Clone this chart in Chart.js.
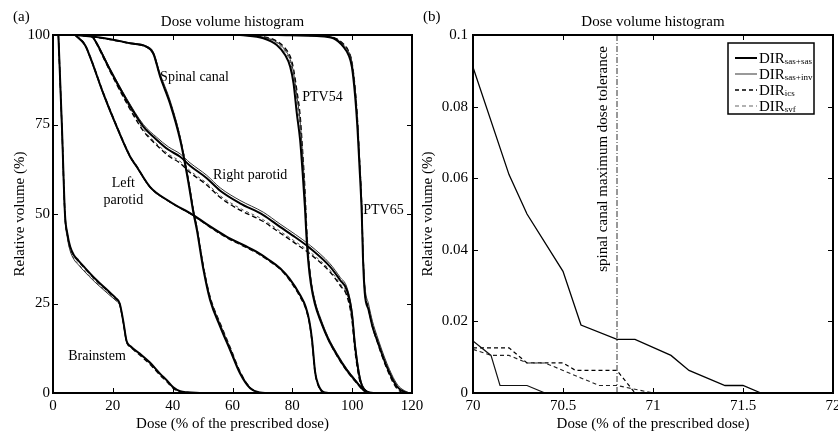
<!DOCTYPE html>
<html>
<head>
<meta charset="utf-8">
<script src="https://cdn.jsdelivr.net/npm/chart.js@4.4.1/dist/chart.umd.min.js"></script>
<style>
  html, body { margin: 0; padding: 0; background: #fff; }
  #wrap { position: relative; width: 838px; height: 432px; overflow: hidden; }
  canvas { position: absolute; top: 0; }
  #dvhFull { left: 0; }
  #dvhZoom { left: 419px; }
</style>
</head>
<body>
<div id="wrap">
  <canvas id="dvhFull" width="432" height="432"></canvas>
  <canvas id="dvhZoom" width="419" height="432"></canvas>
</div>
<script>
// registration methods, in drawing priority order
const methods = ['sas+sas', 'sas+inv', 'ics', 'svf'];

// tick labels
const fullDoseTicks = [0, 20, 40, 60, 80, 100, 120];
const fullVolumeTicks = [0, 25, 50, 75, 100];
const zoomDoseTicks = [70, 70.5, 71, 71.5, 72];
const zoomVolumeTicks = [0, 0.02, 0.04, 0.06, 0.08, 0.1];

// panel (a): dose (%) and relative volume (%) per structure
const brainstemDose = [1.8, 3.0, 4.0, 4.8, 5.7, 7.0, 8.5, 10.1, 14, 19.1, 21.0, 22.3, 23.5, 24.6, 26, 29, 32.4, 36, 38, 40.2, 42.5, 45, 49];
const brainstemSasSas = [100, 74, 50, 44.5, 41, 38.5, 37, 35.5, 32, 28, 26.5, 25, 20, 14.5, 13, 11, 8.5, 5.2, 3.6, 1.6, 0.5, 0.2, 0];
const brainstemSasInv = [100, 73, 49, 43.3, 39.8, 37.3, 35.8, 34.3, 31, 27.2, 25.8, 24.5, 19.6, 14.2, 12.8, 10.8, 8.3, 5.0, 3.4, 1.4, 0.4, 0.1, 0];
const brainstemIcs = [100, 74, 50, 44.3, 40.8, 38.3, 36.8, 35.3, 31.8, 27.8, 26.3, 24.8, 19.8, 14.3, 12.8, 10.6, 8.0, 4.8, 3.2, 1.3, 0.4, 0.1, 0];
const brainstemSvf = [100, 73, 49, 43.5, 40, 37.5, 36, 34.5, 31.2, 27.3, 25.9, 24.6, 19.7, 14.2, 12.9, 10.9, 8.4, 5.1, 3.5, 1.5, 0.5, 0.2, 0];

const leftParotidDose = [7.4, 10.7, 12.4, 16.8, 21.3, 25.8, 28, 32.4, 39, 46.9, 52, 58, 64, 68, 72, 76, 79, 82.5, 84.5, 85.7, 86.6, 87.6, 88.6, 90.3, 92];
const leftParotidSasSas = [100, 97.2, 93.9, 83.7, 74.4, 66, 63.2, 57.6, 53.5, 49.7, 46.8, 43.7, 41.2, 39.5, 37.3, 34.8, 32, 27.5, 24, 20, 14.8, 6, 2.5, 0.3, 0];
const leftParotidSasInv = [100, 97.0, 93.6, 83.4, 74.1, 65.8, 63.0, 57.4, 53.3, 49.5, 46.6, 43.5, 41.0, 39.3, 37.1, 34.6, 31.8, 27.3, 23.8, 19.8, 14.6, 5.9, 2.4, 0.3, 0];
const leftParotidIcs = [100, 97.3, 94.0, 83.9, 74.6, 66.1, 63.3, 57.6, 53.4, 49.6, 46.6, 43.4, 40.9, 39.2, 37.0, 34.5, 31.6, 27.0, 23.5, 19.5, 14.2, 5.6, 2.2, 0.2, 0];
const leftParotidSvf = [100, 97.1, 93.8, 83.6, 74.3, 65.9, 63.1, 57.5, 53.4, 49.6, 46.7, 43.6, 41.1, 39.4, 37.2, 34.7, 31.9, 27.4, 23.9, 19.9, 14.7, 5.9, 2.4, 0.3, 0];

const spinalDose = [7.4, 15.7, 25.8, 31.3, 33.5, 35.8, 39.1, 42.5, 45.3, 46.9, 48.1, 50.3, 52.5, 55.9, 59.2, 62.5, 65.9, 69.2, 71.6];
const spinalSasSas = [100, 99.3, 97.7, 96.7, 94.9, 88.4, 80.9, 70.7, 58.6, 50.5, 45.5, 34.4, 26, 18.5, 12, 5.5, 1.3, 0.15, 0];
const spinalSasInv = [100, 99.3, 97.8, 96.9, 95.3, 89.2, 81.8, 71.6, 59.6, 51.5, 46.5, 35.3, 26.8, 19.2, 12.6, 5.9, 1.5, 0.1, 0];
const spinalIcs = [100, 99.2, 97.6, 96.6, 94.8, 88.6, 81.2, 71.2, 59.2, 51.1, 46.2, 35.2, 26.9, 19.4, 12.8, 6.0, 1.5, 0.08, 0];
const spinalSvf = [100, 99.3, 97.7, 96.8, 95.0, 88.8, 81.4, 71.3, 59.3, 51.2, 46.2, 35.0, 26.6, 19.0, 12.4, 5.7, 1.4, 0.1, 0];

const rightParotidDose = [12.9, 14.6, 19.1, 24.6, 30.2, 34.7, 38.5, 42.5, 45.8, 51.4, 55.9, 62.5, 70.3, 75.9, 81, 86, 92.6, 96, 98.2, 99.9, 101, 102.7, 104.9, 107];
const rightParotidSasSas = [100, 97.7, 90.2, 81.8, 74.4, 70.7, 68, 66, 63.5, 60, 56.5, 53, 49.7, 46.4, 43.5, 40.4, 35.3, 31.5, 28.8, 22.3, 12.9, 3.6, 0.4, 0];
const rightParotidSasInv = [100, 97.9, 90.6, 82.3, 75.0, 71.4, 68.8, 66.8, 64.3, 60.8, 57.3, 53.8, 50.5, 47.2, 44.3, 41.2, 36.1, 32.3, 29.6, 23.2, 13.8, 4.2, 0.6, 0];
const rightParotidIcs = [100, 97.5, 89.8, 81.0, 73.2, 69.2, 66.3, 64.2, 61.6, 58.1, 54.6, 51.1, 47.9, 44.7, 41.8, 38.8, 33.8, 30.0, 27.2, 20.6, 11.4, 2.9, 0.2, 0];
const rightParotidSvf = [100, 97.6, 90.0, 81.3, 73.6, 69.6, 66.8, 64.7, 62.1, 58.6, 55.1, 51.6, 48.4, 45.2, 42.3, 39.3, 34.3, 30.5, 27.7, 21.2, 11.9, 3.2, 0.3, 0];

const ptv54Dose = [62.5, 70.3, 74.8, 77.6, 79.3, 80.4, 81.5, 82.6, 83.4, 84.2, 84.7, 85.3, 86.2, 87.5, 89.5, 92, 95, 98.2, 101, 103.8, 106];
const ptv54SasSas = [100, 99.1, 97.2, 94.4, 91.1, 86.5, 78.1, 70.7, 62, 52, 44, 37, 30.5, 25, 20, 15, 10.5, 6.4, 3.5, 0.8, 0];
const ptv54SasInv = [100, 99.4, 98, 95.8, 93.2, 89.5, 83, 76, 67, 56, 47, 39, 32, 26, 20.8, 15.6, 11, 6.8, 3.8, 1.0, 0];
const ptv54Ics = [100, 99.5, 98.3, 96.3, 94, 90.5, 84.5, 77.5, 68, 57, 47.5, 39, 31.5, 25.5, 20.2, 15, 10.3, 6.2, 3.3, 0.7, 0];
const ptv54Svf = [100, 99.3, 97.8, 95.3, 92.5, 88.6, 81.5, 74, 65, 54.5, 46, 38.5, 31.5, 25.8, 20.5, 15.4, 10.8, 6.6, 3.6, 0.9, 0];

const ptv65Dose = [75, 88.2, 93.7, 97.1, 98.8, 99.9, 101, 101.8, 102.4, 103.2, 103.6, 104.2, 105.5, 106.8, 108.3, 111.6, 115, 118.3, 119.5];
const ptv65SasSas = [100, 99.7, 99.1, 96.7, 94.4, 91.1, 82.8, 73.5, 64, 50.2, 38, 28, 23.2, 18.5, 14.8, 7.3, 1.8, 0.1, 0];
const ptv65SasInv = [100, 99.7, 99.2, 97.2, 95.3, 92.5, 85, 76, 67, 53, 41, 30.5, 24.8, 20, 16, 8.3, 2.5, 0.3, 0];
const ptv65Ics = [100, 99.8, 99.3, 97.5, 95.5, 92.5, 85, 76, 66, 52, 39.5, 29, 23.5, 18.5, 14.5, 6.8, 1.2, 0, 0];
const ptv65Svf = [100, 99.8, 99.3, 97.4, 95.4, 92.3, 84.5, 75.5, 66, 52, 40, 29.5, 24.2, 19.3, 15.4, 7.6, 2, 0.2, 0];

// panel (b): spinal canal, zoomed
const zoomSasSasDose = [70, 70.2, 70.3, 70.5, 70.6, 70.8, 70.9, 71.1, 71.2, 71.4, 71.5, 71.6];
const zoomSasSasVol = [0.091, 0.061, 0.050, 0.034, 0.019, 0.015, 0.015, 0.0105, 0.0063, 0.0021, 0.0021, 0];
const zoomSasInvDose = [70, 70.1, 70.15, 70.3, 70.4];
const zoomSasInvVol = [0.0145, 0.0105, 0.0021, 0.0021, 0];
const zoomIcsDose = [70, 70.2, 70.3, 70.5, 70.57, 70.8, 70.9];
const zoomIcsVol = [0.0126, 0.0126, 0.0084, 0.0084, 0.0063, 0.0063, 0];
const zoomSvfDose = [70, 70.1, 70.2, 70.3, 70.4, 70.5, 70.6, 70.7, 70.8, 71.0];
const zoomSvfVol = [0.0122, 0.0105, 0.0105, 0.0084, 0.0084, 0.0063, 0.0042, 0.0021, 0.0021, 0];
const spinalTolerance = 70.8;

const FONT = '"Liberation Serif", "Times New Roman", Times, serif';
Chart.defaults.font.family = FONT;
Chart.defaults.color = '#000';

const styleFull = {
  'sas+sas': { color: '#000', width: 2, dash: [] },
  'sas+inv': { color: '#333', width: 1, dash: [] },
  'ics': { color: '#000', width: 1.4, dash: [5, 3] },
  'svf': { color: '#555', width: 1, dash: [3, 3] },
};
const styleZoom = {
  'sas+sas': { color: '#000', width: 1.3, dash: [] },
  'sas+inv': { color: '#111', width: 1.2, dash: [] },
  'ics': { color: '#000', width: 1.2, dash: [4, 3] },
  'svf': { color: '#222', width: 1.1, dash: [4, 3] },
};
const legendStyle = {
  'sas+sas': { color: '#000', width: 2, dash: [] },
  'sas+inv': { color: '#777', width: 1.5, dash: [] },
  'ics': { color: '#000', width: 1.5, dash: [4, 3] },
  'svf': { color: '#666', width: 1.2, dash: [4, 3] },
};

const structures = [
  { dose: brainstemDose, vols: [brainstemSasSas, brainstemSasInv, brainstemIcs, brainstemSvf] },
  { dose: leftParotidDose, vols: [leftParotidSasSas, leftParotidSasInv, leftParotidIcs, leftParotidSvf] },
  { dose: spinalDose, vols: [spinalSasSas, spinalSasInv, spinalIcs, spinalSvf] },
  { dose: rightParotidDose, vols: [rightParotidSasSas, rightParotidSasInv, rightParotidIcs, rightParotidSvf] },
  { dose: ptv54Dose, vols: [ptv54SasSas, ptv54SasInv, ptv54Ics, ptv54Svf] },
  { dose: ptv65Dose, vols: [ptv65SasSas, ptv65SasInv, ptv65Ics, ptv65Svf] },
];

const pairs = (xs, ys) => xs.map((x, i) => ({ x: x, y: ys[i] }));

const lineSet = (label, data, st, smooth) => ({
  label: label,
  data: data,
  borderColor: st.color,
  borderWidth: st.width,
  borderDash: st.dash,
  pointRadius: 0,
  fill: false,
  tension: 0,
  cubicInterpolationMode: smooth ? 'monotone' : 'default',
});

// dataset 0 is drawn on top, so keep sas+sas first
const fullSets = [];
methods.forEach((m, mi) => {
  structures.forEach((s) => {
    fullSets.push(lineSet(m, pairs(s.dose, s.vols[mi]), styleFull[m], true));
  });
});

const zoomSets = [
  lineSet('sas+sas', pairs(zoomSasSasDose, zoomSasSasVol), styleZoom['sas+sas'], false),
  lineSet('sas+inv', pairs(zoomSasInvDose, zoomSasInvVol), styleZoom['sas+inv'], false),
  lineSet('ics', pairs(zoomIcsDose, zoomIcsVol), styleZoom['ics'], false),
  lineSet('svf', pairs(zoomSvfDose, zoomSvfVol), styleZoom['svf'], false),
  {
    label: 'tolerance',
    data: [{ x: spinalTolerance, y: zoomVolumeTicks[0] }, { x: spinalTolerance, y: zoomVolumeTicks[zoomVolumeTicks.length - 1] }],
    borderColor: '#333', borderWidth: 1, borderDash: [6, 2, 1, 2], pointRadius: 0, fill: false,
  },
];

// box, inward ticks, titles and text
const deco = {
  id: 'deco',
  afterDraw(chart, args, opts) {
    const { ctx, chartArea: a, scales: { x, y } } = chart;
    ctx.save();
    ctx.strokeStyle = '#000';
    ctx.lineWidth = 1;
    ctx.beginPath();
    x.ticks.forEach((t) => {
      const px = Math.round(x.getPixelForValue(t.value)) + 0.5;
      ctx.moveTo(px, a.bottom); ctx.lineTo(px, a.bottom - 5);
      ctx.moveTo(px, a.top); ctx.lineTo(px, a.top + 5);
    });
    y.ticks.forEach((t) => {
      const py = Math.round(y.getPixelForValue(t.value)) + 0.5;
      ctx.moveTo(a.left, py); ctx.lineTo(a.left + 5, py);
      ctx.moveTo(a.right, py); ctx.lineTo(a.right - 5, py);
    });
    ctx.stroke();
    ctx.lineWidth = 2;
    ctx.strokeRect(a.left, a.top, a.right - a.left, a.bottom - a.top);

    ctx.fillStyle = '#000';
    ctx.textBaseline = 'middle';
    ctx.font = '15px ' + FONT;
    ctx.textAlign = 'center';
    ctx.fillText('Dose volume histogram', (a.left + a.right) / 2, 22);
    ctx.textAlign = 'left';
    ctx.fillText(opts.tag, opts.tagX, 17);

    ctx.font = '14px ' + FONT;
    (opts.labels || []).forEach((l) => {
      ctx.textAlign = l.align;
      ctx.fillText(l.text, x.getPixelForValue(l.x), y.getPixelForValue(l.y));
    });

    if (opts.rotated) {
      const r = opts.rotated;
      ctx.save();
      ctx.font = '15px ' + FONT;
      ctx.translate(x.getPixelForValue(r.x), y.getPixelForValue(r.y));
      ctx.rotate(-Math.PI / 2);
      ctx.textAlign = 'center';
      ctx.fillText(r.text, 0, 0);
      ctx.restore();
    }

    if (opts.legend) {
      const lw = 86, lh = 71;
      const lx = a.right - 19 - lw, ly = a.top + 8;
      ctx.fillStyle = '#fff';
      ctx.fillRect(lx, ly, lw, lh);
      ctx.strokeStyle = '#000';
      ctx.lineWidth = 1.5;
      ctx.setLineDash([]);
      ctx.strokeRect(lx, ly, lw, lh);
      methods.forEach((m, i) => {
        const st = legendStyle[m];
        const yy = ly + 15 + i * 16;
        ctx.strokeStyle = st.color;
        ctx.lineWidth = st.width;
        ctx.setLineDash(st.dash);
        ctx.beginPath();
        ctx.moveTo(lx + 7, yy); ctx.lineTo(lx + 29, yy);
        ctx.stroke();
        ctx.setLineDash([]);
        ctx.fillStyle = '#000';
        ctx.textAlign = 'left';
        ctx.textBaseline = 'alphabetic';
        ctx.font = '15px ' + FONT;
        ctx.fillText('DIR', lx + 31, yy + 5);
        const w = ctx.measureText('DIR').width;
        ctx.font = '9px ' + FONT;
        ctx.fillText(m, lx + 31 + w, yy + 6);
      });
    }
    ctx.restore();
  },
};

const fixTicks = (arr) => (scale) => { scale.ticks = arr.map((v) => ({ value: v })); };
const num = (v) => String(+Number(v).toFixed(3));

const axes = (xr, yr, xt, yt, yWidth, yTitlePad, yTickPad) => ({
  x: {
    type: 'linear', min: xr[0], max: xr[1],
    grid: { display: false, drawTicks: false },
    border: { display: false },
    afterBuildTicks: fixTicks(xt),
    afterFit: (s) => { s.height = 39; s.paddingLeft = 0; s.paddingRight = 0; },
    ticks: { font: { size: 15, family: FONT }, padding: 4, maxRotation: 0, callback: num, color: '#000' },
    title: { display: true, text: 'Dose (% of the prescribed dose)', font: { size: 15, family: FONT, lineHeight: 1.1 }, padding: 0, color: '#000' },
  },
  y: {
    type: 'linear', min: yr[0], max: yr[1],
    grid: { display: false, drawTicks: false },
    border: { display: false },
    afterBuildTicks: fixTicks(yt),
    afterFit: (s) => { s.width = yWidth; s.paddingTop = 0; s.paddingBottom = 0; },
    ticks: { font: { size: 15, family: FONT }, padding: yTickPad, callback: num, color: '#000' },
    title: { display: true, text: 'Relative volume (%)', font: { size: 15, family: FONT, lineHeight: 1.2 }, padding: { top: yTitlePad, bottom: 0 }, color: '#000' },
  },
});

new Chart(document.getElementById('dvhFull'), {
  type: 'line',
  data: { datasets: fullSets },
  options: {
    responsive: false, animation: false, devicePixelRatio: 1,
    layout: { padding: { top: 35, right: 20, left: 0, bottom: 0 } },
    scales: axes([0, 120], [0, 100], fullDoseTicks, fullVolumeTicks, 53, 11, 3),
    plugins: {
      legend: { display: false }, tooltip: { enabled: false },
      deco: {
        tag: '(a)', tagX: 13,
        labels: [
          { text: 'Spinal canal', x: 35.8, y: 88.3, align: 'left' },
          { text: 'PTV54', x: 83.3, y: 82.7, align: 'left' },
          { text: 'Right parotid', x: 65.9, y: 60.9, align: 'center' },
          { text: 'Left', x: 23.5, y: 58.7, align: 'center' },
          { text: 'parotid', x: 23.5, y: 53.9, align: 'center' },
          { text: 'PTV65', x: 103.7, y: 51.1, align: 'left' },
          { text: 'Brainstem', x: 5.1, y: 10.3, align: 'left' },
        ],
      },
    },
  },
  plugins: [deco],
});

new Chart(document.getElementById('dvhZoom'), {
  type: 'line',
  data: { datasets: zoomSets },
  options: {
    responsive: false, animation: false, devicePixelRatio: 1,
    layout: { padding: { top: 35, right: 5, left: 0, bottom: 0 } },
    scales: axes([70, 72], [0, 0.1], zoomDoseTicks, zoomVolumeTicks, 54, 0, 5),
    plugins: {
      legend: { display: false }, tooltip: { enabled: false },
      deco: {
        tag: '(b)', tagX: 4,
        rotated: { text: 'spinal canal maximum dose tolerance', x: 70.72, y: 0.0654 },
        legend: true,
      },
    },
  },
  plugins: [deco],
});
</script>
</body>
</html>
